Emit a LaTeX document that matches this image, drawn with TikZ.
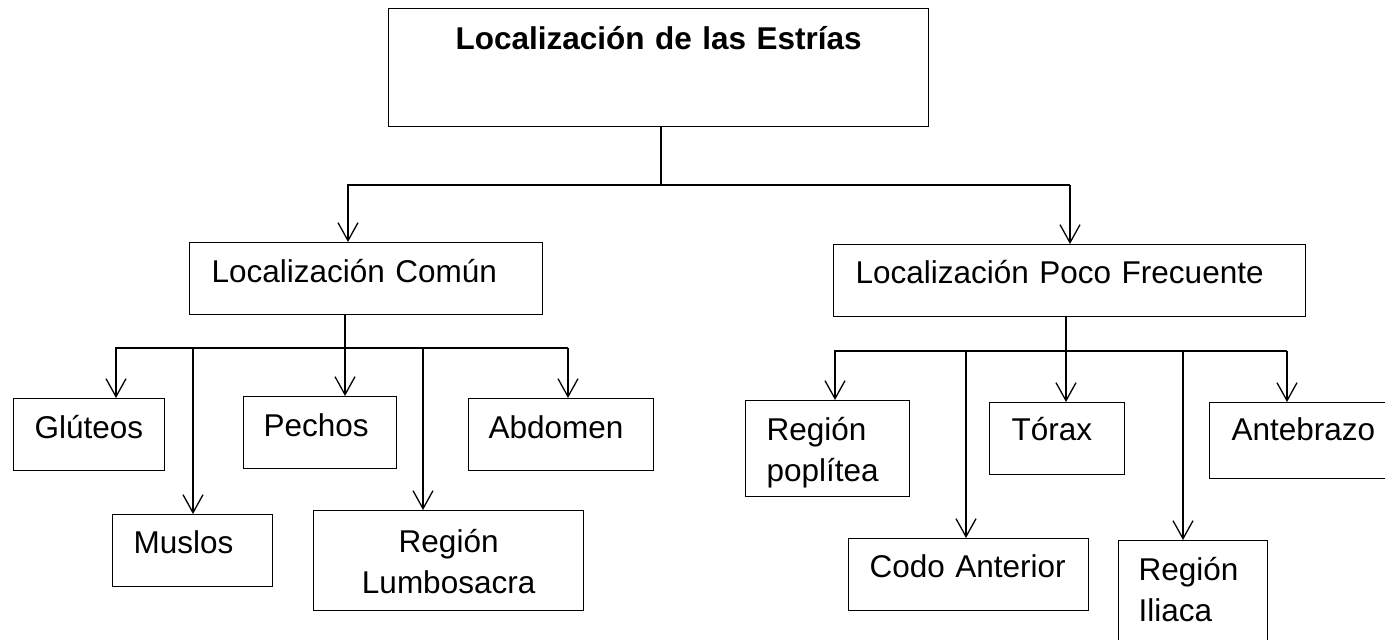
\documentclass[tikz,border=0pt]{standalone}
\usepackage{fontspec}
\setmainfont{Liberation Sans}
\usetikzlibrary{positioning,arrows.meta}

\begin{document}
\begin{tikzpicture}[
		x=1pt, y=-1pt,
		box/.style={rectangle, draw=black, line width=1.3pt, anchor=north west, inner ysep=0pt, align=left, font=\fontsize{31.5}{41}\selectfont},
		arr/.style={line width=1.3pt, -{Straight Barb[length=18pt, width=20pt]}},
		bus/.style={line width=1.3pt},
		]
		\useasboundingbox (0,0) rectangle (1385,640);

		%Main Nodes
		\node[box, align=center, text width=540pt, inner xsep=0pt, text height=41pt, text depth=77pt, font=\bfseries\fontsize{31.5}{41}\selectfont]	(estrias)	at (388,8)	{Localización de las Estrías};
		\node[box, text width=309pt, inner xsep=22pt, text height=40pt, text depth=32pt]	(comun)		at (189,242)	{Localización Común};
		\node[box, text width=428pt, inner xsep=22pt, text height=39pt, text depth=33pt]	(poco)		at (833,244)	{Localización Poco Frecuente};

		%Main Lines
		\coordinate (top_bus)	at (661,185);
		\coordinate (top_l)		at (348,185);
		\coordinate (top_r)		at (1070,185);
		\draw[bus]	(estrias.south -| top_bus) -- (top_bus);
		\draw[arr]	(top_r) -- (top_l) -- (top_l |- comun.north);
		\draw[arr]	(top_r) -- (top_r |- poco.north);

		%Comun
		\node[box, text width=109pt, inner xsep=21pt, text height=40pt, text depth=32pt]	(gluteos)	at (13,398)		{Glúteos};
		\node[box, text width=118pt, inner xsep=21pt, text height=39pt, text depth=33pt]	(muslos)	at (112,514)	{Muslos};
		\node[box, text width=113pt, inner xsep=20pt, text height=40pt, text depth=32pt]	(pechos)	at (243,396)	{Pechos};
		\node[box, align=center, text width=270pt, inner xsep=0pt, text height=42pt, text depth=58pt]	(lumbo)	at (313,510)	{Región\\Lumbosacra};
		\node[box, text width=145pt, inner xsep=20pt, text height=40pt, text depth=32pt]	(abdomen)	at (468,398)	{Abdomen};
		\coordinate (com_bus)	at (345,348);
		\coordinate (com_l)		at (116,348);
		\coordinate (com_m)		at (193,348);
		\coordinate (com_n)		at (423,348);
		\coordinate (com_r)		at (568,348);
		\draw[bus]	(comun.south -| com_bus) -- (com_bus);
		\draw[arr]	(com_r) -- (com_l) -- (com_l |- gluteos.north);
		\draw[arr]	(com_m) -- (com_m |- muslos.north);
		\draw[arr]	(com_bus) -- (com_bus |- pechos.north);
		\draw[arr]	(com_n) -- (com_n |- lumbo.north);
		\draw[arr]	(com_r) -- (com_r |- abdomen.north);

		%Poco Frecuente
		\node[box, text width=122pt, inner xsep=21pt, text height=40pt, text depth=56pt]	(poplitea)	at (745,400)	{Región\\poplítea};
		\node[box, text width=198pt, inner xsep=21pt, text height=39pt, text depth=33pt]	(codo)		at (848,538)	{Codo Anterior};
		\node[box, text width=91pt, inner xsep=22pt, text height=38pt, text depth=34pt]		(torax)		at (989,402)	{Tórax};
		\node[box, text width=109pt, inner xsep=20pt, text height=40pt, text depth=70pt]	(iliaca)	at (1118,540)	{Región\\Iliaca};
		\node[box, text width=147pt, inner xsep=22pt, text height=38pt, text depth=38pt]	(antebrazo)	at (1209,402)	{Antebrazo};
		\coordinate (poco_bus)	at (1066,351);
		\coordinate (poco_l)	at (835,351);
		\coordinate (poco_m)	at (966,351);
		\coordinate (poco_n)	at (1183,351);
		\coordinate (poco_r)	at (1287,351);
		\draw[bus]	(poco.south -| poco_bus) -- (poco_bus);
		\draw[arr]	(poco_r) -- (poco_l) -- (poco_l |- poplitea.north);
		\draw[arr]	(poco_m) -- (poco_m |- codo.north);
		\draw[arr]	(poco_bus) -- (poco_bus |- torax.north);
		\draw[arr]	(poco_n) -- (poco_n |- iliaca.north);
		\draw[arr]	(poco_r) -- (poco_r |- antebrazo.north);

	\end{tikzpicture}
\end{document}
